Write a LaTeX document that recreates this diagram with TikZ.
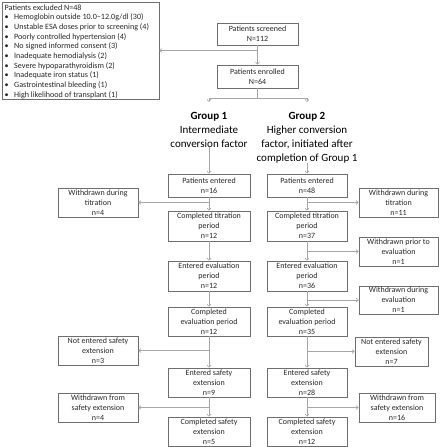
\documentclass[tikz,border=0pt]{standalone}
\usepackage{fontspec}
\setmainfont{Carlito}
\usetikzlibrary{arrows.meta}
\definecolor{boxc}{HTML}{6E6E6E}
\definecolor{linec}{HTML}{A6A6A6}
\definecolor{txt}{HTML}{262626}
\begin{document}
\begin{tikzpicture}[x=1pt,y=-1pt,
  box/.style={draw=boxc, line width=0.6pt, align=center, inner sep=0pt, text=txt,
    font=\fontsize{8}{9.9}\selectfont},
  conn/.style={draw=linec, line width=0.6pt, -{Straight Barb[length=2.2pt,width=4pt]}},
  plain/.style={draw=linec, line width=0.6pt},
  grp/.style={align=center, inner sep=0pt, anchor=north, text=black,
    font=\fontsize{11}{14}\selectfont}]
\useasboundingbox (0,0) rectangle (440,447);

% excluded box
\node[draw=boxc, line width=0.6pt, minimum width=157pt, minimum height=97pt, inner sep=0pt] (ex) at (80.5,50.5) {};
\node[anchor=north west, align=left, inner sep=0pt, text=txt,
      font=\fontsize{8.1}{9.65}\selectfont] (ext) at (4.5,3) {%
\rule{0pt}{7pt}Patients excluded N=48\\
\makebox[9.5pt][l]{•}Hemoglobin outside 10.0–12.0g/dl (30)\\
\makebox[9.5pt][l]{•}Unstable ESA doses prior to screening (4)\\
\makebox[9.5pt][l]{•}Poorly controlled hypertension (4)\\
\makebox[9.5pt][l]{•}No signed informed consent (3)\\
\makebox[9.5pt][l]{•}Inadequate hemodialysis (2)\\
\makebox[9.5pt][l]{•}Severe hypoparathyroidism (2)\\
\makebox[9.5pt][l]{•}Inadequate iron status (1)\\
\makebox[9.5pt][l]{•}Gastrointestinal bleeding (1)\\
\makebox[9.5pt][l]{•}High likelihood of transplant (1)};

% top boxes
\node[box, minimum width=81pt, minimum height=22pt] (sc) at (257.5,34) {Patients screened\\N=112};
\node[box, minimum width=81pt, minimum height=23pt] (en) at (257.5,76.5) {Patients enrolled\\N=64};

% group headings
\node[grp] (g1) at (209,102) {\rule{0pt}{17pt}\textbf{Group 1}\\Intermediate\\conversion factor};
\node[grp] (g2) at (307,102) {\rule{0pt}{17pt}\textbf{Group 2}\\Higher conversion\\factor, initiated after\\completion of Group 1};

% group 1 column
\node[box, minimum width=82pt, minimum height=23pt] (pe1) at (209,185.5) {Patients entered\\n=16};
\node[box, minimum width=82pt, minimum height=30pt] (ct1) at (209,226) {Completed titration\\period\\n=12};
\node[box, minimum width=82pt, minimum height=30pt] (ee1) at (209,276) {Entered evaluation\\period\\n=12};
\node[box, minimum width=82pt, minimum height=29pt] (ce1) at (209,321.5) {Completed\\evaluation period\\n=12};
\node[box, minimum width=82pt, minimum height=29pt] (es1) at (209,382.5) {Entered safety\\extension\\n=9};
\node[box, minimum width=82pt, minimum height=29pt] (cs1) at (209,431.5) {Completed safety\\extension\\n=5};

% group 2 column
\node[box, minimum width=80pt, minimum height=23pt] (pe2) at (307,185.5) {Patients entered\\n=48};
\node[box, minimum width=80pt, minimum height=30pt] (ct2) at (307,226) {Completed titration\\period\\n=37};
\node[box, minimum width=80pt, minimum height=30pt] (ee2) at (307,276) {Entered evaluation\\period\\n=36};
\node[box, minimum width=80pt, minimum height=29pt] (ce2) at (307,321.5) {Completed\\evaluation period\\n=35};
\node[box, minimum width=80pt, minimum height=29pt] (es2) at (307,382.5) {Entered safety\\extension\\n=28};
\node[box, minimum width=80pt, minimum height=29pt] (cs2) at (307,431.5) {Completed safety\\extension\\n=12};

% left side boxes
\node[box, minimum width=80pt, minimum height=29pt] (wt1) at (98,202.5) {Withdrawn during\\titration\\n=4};
\node[box, minimum width=80pt, minimum height=29pt] (ns1) at (98,350.5) {Not entered safety\\extension\\n=3};
\node[box, minimum width=80pt, minimum height=29pt] (ws1) at (98,407.5) {Withdrawn from\\safety extension\\n=4};

% right side boxes
\node[box, minimum width=79pt, minimum height=29pt] (wt2) at (398.5,202.5) {Withdrawn during\\titration\\n=11};
\node[box, minimum width=79pt, minimum height=29pt] (wp2) at (398.5,251.5) {Withdrawn prior to\\evaluation\\n=1};
\node[box, minimum width=79pt, minimum height=28pt] (we2) at (398.5,300) {Withdrawn during\\evaluation\\n=1};
\node[box, minimum width=73pt, minimum height=29pt] (ns2) at (391.5,351.5) {Not entered safety\\extension\\n=7};
\node[box, minimum width=76pt, minimum height=29pt] (ws2) at (397,407.5) {Withdrawn from\\safety extension\\n=16};

% connectors top
\draw[conn] (sc) -- (en);
\draw[conn] (sc.south |- ex.east) -- (ex.east);
\coordinate (sp1) at (209,98);
\coordinate (sp2) at (307,98);
\draw[plain] (en.south) -- (en.south |- sp1);
\draw[plain] (sp1) -- (sp2);
\draw[conn] (sp1) -- (g1.north);
\draw[conn] (sp2) -- (g2.north);
\draw[conn] (g1) -- (pe1);
\draw[conn] (g2) -- (pe2);

% column chains
\foreach \c in {1,2}{
  \draw[conn] (pe\c) -- (ct\c);
  \draw[conn] (ct\c) -- (ee\c);
  \draw[conn] (ee\c) -- (ce\c);
  \draw[conn] (ce\c) -- (es\c);
  \draw[conn] (es\c) -- (cs\c);
}

% side branches
\draw[conn] (pe1.south |- wt1.east) -- (wt1.east);
\draw[conn] (ce1.south |- ns1.east) -- (ns1.east);
\draw[conn] (es1.south |- ws1.east) -- (ws1.east);
\draw[conn] (pe2.south |- wt2.west) -- (wt2.west);
\draw[conn] (ct2.south |- wp2.west) -- (wp2.west);
\draw[conn] (ee2.south |- we2.west) -- (we2.west);
\draw[conn] (ce2.south |- ns2.west) -- (ns2.west);
\draw[conn] (es2.south |- ws2.west) -- (ws2.west);
\end{tikzpicture}
\end{document}
